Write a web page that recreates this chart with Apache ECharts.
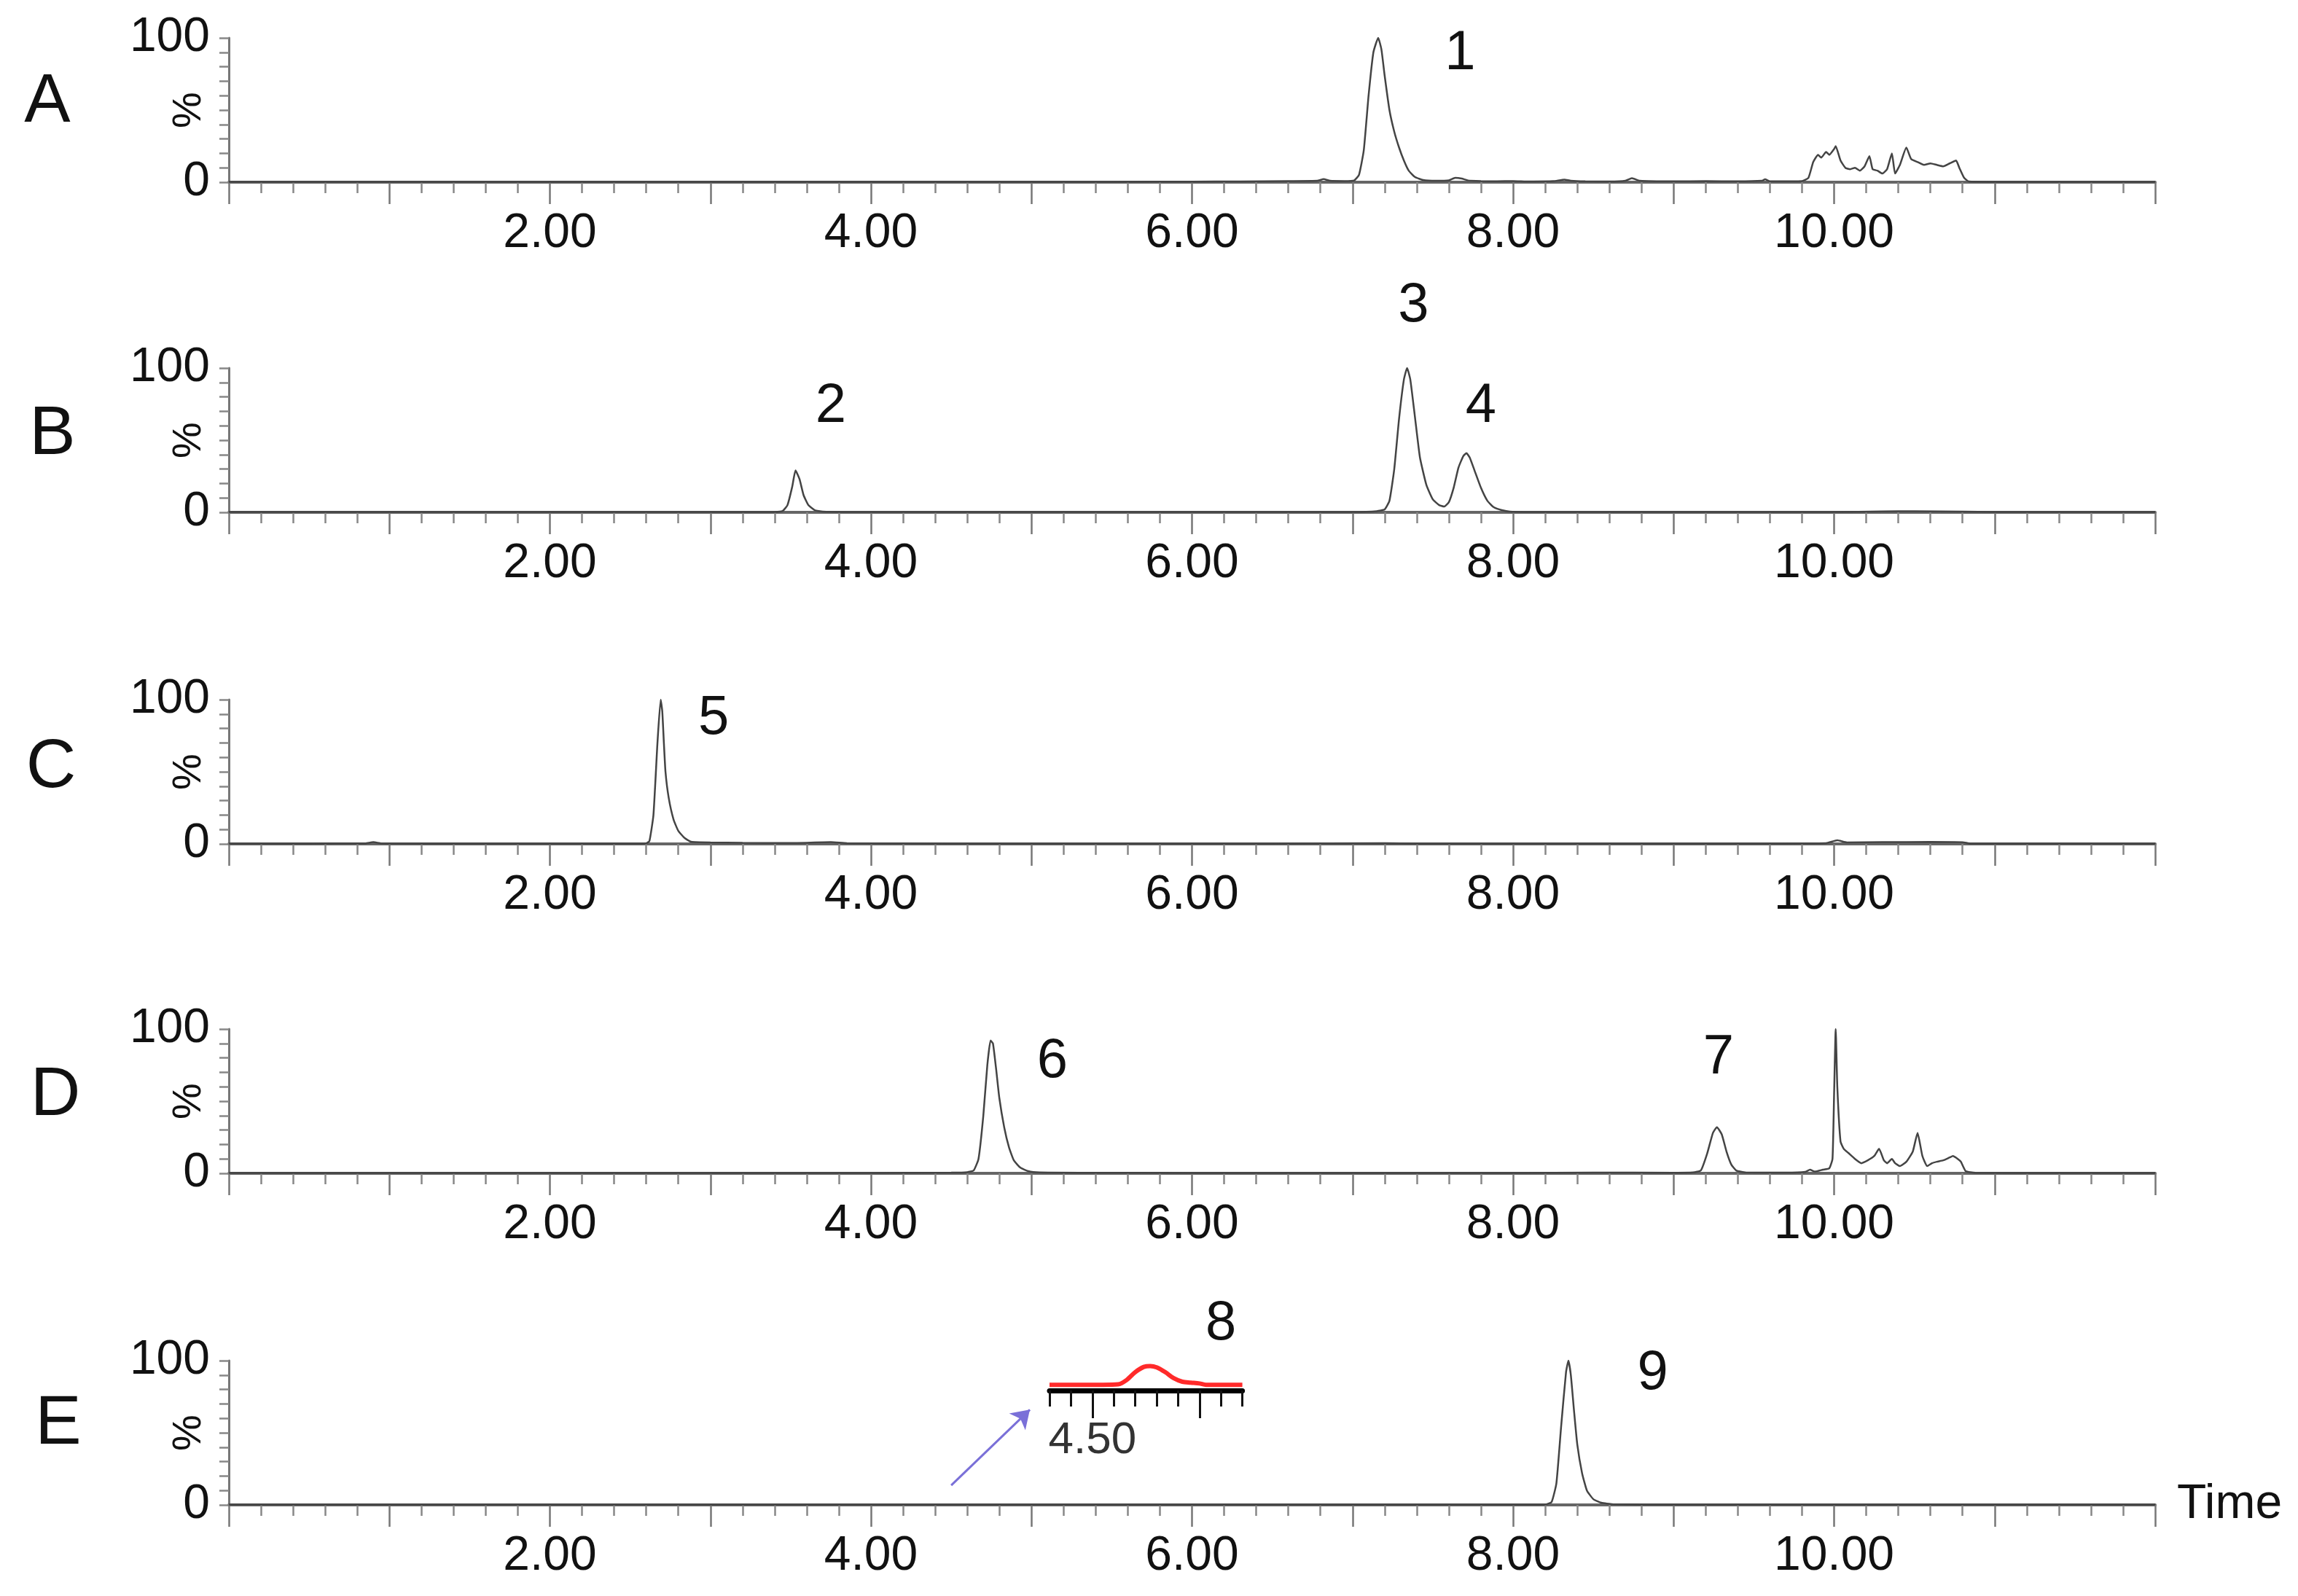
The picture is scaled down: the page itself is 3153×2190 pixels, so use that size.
<!DOCTYPE html>
<html><head><meta charset="utf-8">
<script src="https://cdn.jsdelivr.net/npm/echarts@6/dist/echarts.min.js"></script>
<style>html,body{margin:0;padding:0;background:#fff}#c{width:3153px;height:2190px}</style>
</head><body><div id="c"></div>
<script>
// ---------- DATA ----------
const panelNames = ['A', 'B', 'C', 'D', 'E'];
const xTickLabels = ['2.00', '4.00', '6.00', '8.00', '10.00'];
const yTickLabels = ['0', '100'];

// [time (min), relative intensity (%)]
const traceA = [[0,0.3],[0.5,0.2],[1,0.3],[1.5,0.2],[2,0.3],[2.5,0.2],[3,0.3],[3.5,0.2],[4,0.3],[4.5,0.3],[5,0.2],[5.5,0.3],[6,0.4],[6.3,0.5],[6.6,0.8],[6.78,1.0],[6.82,2.2],[6.86,1.0],[6.95,0.8],[7.01,1.2],[7.04,5],[7.07,22],[7.10,60],[7.13,90],[7.16,100],[7.18,92],[7.20,74],[7.23,50],[7.26,35],[7.29,24],[7.32,15],[7.35,8],[7.39,3.5],[7.44,1.5],[7.52,1.0],[7.6,1.3],[7.64,3],[7.68,2.5],[7.72,1.2],[7.8,0.8],[7.9,0.6],[8.0,0.8],[8.1,0.5],[8.25,0.7],[8.32,1.8],[8.36,1.0],[8.45,0.6],[8.6,0.5],[8.70,1.0],[8.74,2.8],[8.79,1.0],[9.0,0.6],[9.2,0.7],[9.4,0.6],[9.55,1.0],[9.57,2],[9.6,0.6],[9.8,0.8],[9.84,3],[9.87,14],[9.90,19],[9.92,17],[9.95,21],[9.97,19],[10.0,23],[10.01,25],[10.04,15],[10.07,10],[10.1,9],[10.13,10],[10.16,8],[10.19,11],[10.22,18],[10.24,9],[10.27,8],[10.30,6],[10.33,9],[10.36,20],[10.38,6],[10.41,12],[10.45,24],[10.48,16],[10.52,14],[10.56,12],[10.6,13],[10.64,12],[10.68,11],[10.72,13],[10.76,15],[10.78,10],[10.81,3],[10.84,0.5],[11,0.3],[11.5,0.2],[12,0.3]];

const traceB = [[0,0.2],[1,0.2],[2,0.2],[3,0.2],[3.4,0.3],[3.45,1],[3.48,5],[3.51,18],[3.53,29],[3.555,23],[3.58,12],[3.61,5],[3.65,1.5],[3.70,0.5],[4,0.2],[5,0.2],[6,0.2],[7,0.3],[7.15,0.8],[7.2,2],[7.23,8],[7.26,30],[7.29,65],[7.32,92],[7.34,100],[7.36,92],[7.39,65],[7.42,38],[7.46,19],[7.50,9],[7.54,5],[7.57,4],[7.60,7],[7.63,17],[7.66,31],[7.69,39],[7.71,41],[7.73,38],[7.76,29],[7.80,17],[7.84,8],[7.88,3.5],[7.93,1.5],[7.98,0.5],[8.2,0.2],[9,0.2],[10,0.3],[10.3,0.6],[10.5,0.8],[10.8,0.5],[11,0.2],[12,0.2]];

const traceC = [[0,0.2],[0.5,0.3],[0.85,0.4],[0.9,1.2],[0.95,0.4],[1.5,0.2],[2.0,0.2],[2.5,0.3],[2.6,0.4],[2.62,2],[2.645,20],[2.67,70],[2.69,100],[2.70,92],[2.71,70],[2.72,50],[2.74,32],[2.77,17],[2.80,9],[2.84,4],[2.88,1.5],[3.0,1.0],[3.2,0.8],[3.5,0.6],[3.75,1.2],[3.85,0.5],[4.5,0.3],[5.5,0.2],[6.5,0.2],[7.2,0.5],[7.4,0.3],[8.5,0.2],[9.5,0.3],[9.95,0.5],[10.02,2.5],[10.08,1.0],[10.3,1.2],[10.6,1.4],[10.8,1.2],[10.85,0.3],[11.5,0.2],[12,0.2]];

const traceD = [[0,0.2],[1,0.2],[2,0.2],[3,0.2],[4,0.3],[4.5,0.5],[4.6,0.8],[4.64,2],[4.67,10],[4.70,40],[4.725,75],[4.745,92],[4.76,90],[4.78,72],[4.80,52],[4.83,32],[4.86,18],[4.89,9],[4.93,4],[4.98,1.5],[5.05,0.6],[5.3,0.4],[6,0.3],[7,0.2],[8,0.3],[8.5,0.5],[9.0,0.4],[9.12,0.6],[9.17,2],[9.21,14],[9.245,28],[9.27,32],[9.30,27],[9.33,15],[9.36,6],[9.39,2],[9.45,0.6],[9.7,0.5],[9.82,1],[9.85,2.5],[9.88,1.2],[9.93,2.5],[9.97,3.5],[9.99,10],[10.0,55],[10.01,100],[10.02,60],[10.04,22],[10.06,17],[10.09,14],[10.13,10],[10.17,7],[10.21,9],[10.25,12],[10.28,17],[10.31,9],[10.33,7],[10.36,10],[10.38,7],[10.41,5],[10.45,8],[10.49,15],[10.52,28],[10.55,12],[10.58,5],[10.61,7],[10.64,8],[10.68,9],[10.72,11],[10.74,12],[10.77,10],[10.79,8],[10.82,1.5],[10.88,0.4],[11.5,0.2],[12,0.2]];

const traceE = [[0,0.2],[1,0.2],[2,0.2],[3,0.2],[4,0.2],[5,0.2],[6,0.2],[7,0.2],[8,0.2],[8.2,0.3],[8.24,2],[8.27,15],[8.30,55],[8.33,92],[8.345,100],[8.36,90],[8.38,65],[8.40,42],[8.43,22],[8.46,10],[8.50,4],[8.55,1.5],[8.62,0.5],[9,0.2],[10,0.2],[11,0.2],[12,0.2]];

// inset (zoom of peak 8)
const insetTrace = [[4.30,13],[4.55,13],[4.62,14],[4.66,24],[4.70,42],[4.74,54],[4.77,56],[4.80,53],[4.84,42],[4.88,28],[4.92,20],[4.96,18],[5.0,16],[5.03,13],[5.2,13]];
const insetTickLabels = ['4.50'];
const insetMajorTicks = [4.5, 5.0];

// peak labels: name, panel, anchor time, anchor level (%)
const peakNames = ['1','2','3','4','5','6','7','8','9'];
const peakPanel = [0,1,1,1,2,3,3,4,4];
const peakTime  = [7.67,3.75,7.38,7.80,3.02,5.13,9.28,6.18,8.87];
const peakLevel = [89,73,143,73,87,77,80,125,91];

// arrow pointing at inset (panel E, data coords)
const arrowE = [[4.50,13.6],[4.99,66]];

// ---------- LAYOUT ----------
const traces = [traceA, traceB, traceC, traceD, traceE];
const FONT = '"Liberation Sans", Arial, Helvetica, sans-serif';
const gridTops = [52, 505, 960, 1412, 1867];
const letterPos = [[65,141],[72,597],[70,1054],[76,1504],[80,1955]];

const grids = [], xAxes = [], yAxes = [], series = [];
for (let i = 0; i < 5; i++) {
  grids.push({left: 314, width: 2643, top: gridTops[i], height: 198});
  xAxes.push({
    type: 'value', gridIndex: i, min: 0, max: 12, interval: 1, position: 'bottom',
    axisLine: {show: true, lineStyle: {color: '#666', width: 4}},
    axisTick: {show: true, length: 30, lineStyle: {color: '#777', width: 2.5}},
    minorTick: {show: true, splitNumber: 5, length: 15, lineStyle: {color: '#888', width: 2.5}},
    splitLine: {show: false}, minorSplitLine: {show: false},
    axisLabel: {margin: 38, fontSize: 66, color: '#111', fontFamily: FONT,
      formatter: v => xTickLabels.includes(v.toFixed(2)) ? v.toFixed(2) : ''},
    name: i === 4 ? 'Time' : '', nameLocation: 'end', nameGap: 30,
    nameTextStyle: {fontSize: 66, color: '#111', fontFamily: FONT, verticalAlign: 'middle'}
  });
  yAxes.push({
    type: 'value', gridIndex: i, min: 0, max: 100, interval: 10,
    axisLine: {show: true, lineStyle: {color: '#777', width: 3}},
    axisTick: {show: true, length: 13, lineStyle: {color: '#888', width: 2.5}},
    splitLine: {show: false},
    axisLabel: {margin: 26, fontSize: 66, color: '#111', fontFamily: FONT,
      formatter: v => yTickLabels.includes(String(v)) ? String(v) : ''},
    name: '%', nameLocation: 'middle', nameGap: 26, nameRotate: 90, nameMoveOverlap: false,
    nameTextStyle: {fontSize: 56, color: '#111', fontFamily: FONT}
  });
  const s = {
    type: 'line', xAxisIndex: i, yAxisIndex: i, data: traces[i],
    showSymbol: false, smooth: 0.15, silent: true,
    lineStyle: {color: '#444', width: 2.5}
  };
  if (i === 4) {
    s.markLine = {
      silent: true, symbol: ['none', 'arrow'], symbolSize: 24,
      label: {show: false},
      lineStyle: {color: '#7a70d8', width: 3, type: 'solid'},
      data: [[{coord: arrowE[0]}, {coord: arrowE[1]}]]
    };
  }
  series.push(s);
}
// inset grid
grids.push({left: 1440, width: 264.6, top: 1848, height: 60});
xAxes.push({
  type: 'value', gridIndex: 5, min: 4.3, max: 5.2, interval: 0.1, position: 'bottom',
  axisLine: {show: true, lineStyle: {color: '#000', width: 7}},
  axisTick: {show: true, length: 22, lineStyle: {color: '#111', width: 3}},
  axisLabel: {show: false}, splitLine: {show: false}
});
xAxes.push({
  type: 'value', gridIndex: 5, min: 4.3, max: 5.2, interval: 0.1, position: 'bottom', offset: 0,
  axisLine: {show: false},
  axisTick: {show: true, length: 38, customValues: insetMajorTicks, lineStyle: {color: '#111', width: 3}},
  axisLabel: {show: true, margin: 38, fontSize: 62, color: '#333', fontFamily: FONT,
    customValues: insetMajorTicks,
    formatter: v => insetTickLabels.includes(v.toFixed(2)) ? v.toFixed(2) : ''},
  splitLine: {show: false}
});
yAxes.push({type: 'value', gridIndex: 5, min: 0, max: 100, show: false});
series.push({
  type: 'line', xAxisIndex: 5, yAxisIndex: 5, data: insetTrace,
  showSymbol: false, smooth: 0.3, silent: true, z: 5,
  lineStyle: {color: '#ff2a2a', width: 6}
});

const chart = echarts.init(document.getElementById('c'));
chart.setOption({
  backgroundColor: '#fff', animation: false,
  grid: grids, xAxis: xAxes, yAxis: yAxes, series: series
});

const graphics = [];
for (let i = 0; i < 5; i++) {
  graphics.push({type: 'text', x: letterPos[i][0], y: letterPos[i][1],
    style: {text: panelNames[i], font: '95px ' + FONT, fill: '#111',
      textAlign: 'center', textVerticalAlign: 'middle', align: 'center', verticalAlign: 'middle'}});
}
for (let k = 0; k < peakNames.length; k++) {
  const p = chart.convertToPixel({gridIndex: peakPanel[k]}, [peakTime[k], peakLevel[k]]);
  graphics.push({type: 'text', x: p[0], y: p[1],
    style: {text: peakNames[k], font: '76px ' + FONT, fill: '#111',
      textAlign: 'center', textVerticalAlign: 'middle', align: 'center', verticalAlign: 'middle'}});
}
chart.setOption({graphic: graphics});
</script></body></html>
